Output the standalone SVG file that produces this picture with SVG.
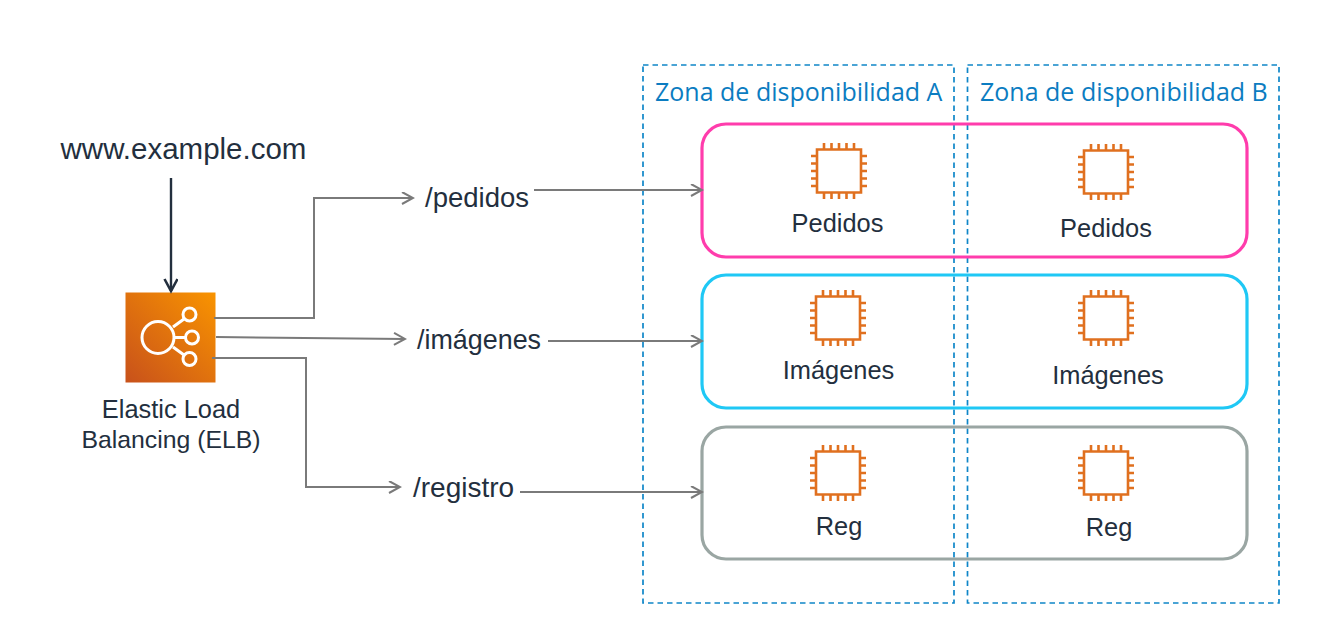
<svg xmlns="http://www.w3.org/2000/svg" width="1337" height="624" viewBox="0 0 1337 624">
<style>
text{font-family:"Liberation Sans",Arial,sans-serif;fill:#232f3e;font-size:25.4px}
.r{font-size:27.500px}
.z{fill:#0b7cc1;font-size:25px;font-family:"Open Sans","Noto Sans",sans-serif}
.zone{fill:none;stroke:#0f86c8;stroke-width:1.7;stroke-dasharray:5.5 4}
.grp{fill:none;stroke-width:3.2}
.c{fill:none;stroke:#7a7a7a;stroke-width:2}
.chip{fill:none;stroke:#e0701f;stroke-width:2.600}
</style>
<defs>
<linearGradient id="elb" x1="0" y1="1" x2="1" y2="0"><stop offset="0" stop-color="#c8511b"/><stop offset="1" stop-color="#f99400"/></linearGradient>
<marker id="a" markerWidth="14" markerHeight="14" refX="12" refY="6.500" orient="auto" markerUnits="userSpaceOnUse"><path d="M1 0.500L12 6.500L1 12.500" fill="none" stroke="#7a7a7a" stroke-width="2"/></marker>
<marker id="d" markerWidth="16" markerHeight="16" refX="13" refY="7" orient="auto" markerUnits="userSpaceOnUse"><path d="M1 0.500L13 7L1 13.500" fill="none" stroke="#232f3e" stroke-width="2.600"/></marker>
<symbol id="chip" overflow="visible"><path class="chip" d="M-22-21.500H22V21.500H-22ZM-15-21.500V-28M-7.500-21.500V-28M0-21.500V-28M7.500-21.500V-28M15-21.500V-28M-15 21.500V28M-7.500 21.500V28M0 21.500V28M7.500 21.500V28M15 21.500V28M-22-15H-28M-22-7.500H-28M-22 0H-28M-22 7.500H-28M-22 15H-28M22-15H28M22-7.500H28M22 0H28M22 7.500H28M22 15H28"/></symbol>
</defs>
<rect width="1337" height="624" fill="#fff"/>
<g id="zone-a"><rect class="zone" x="643" y="65" width="311" height="538"/><text class="z" x="655" y="100.500">Zona de disponibilidad A</text></g>
<g id="zone-b"><rect class="zone" x="967.500" y="65" width="311.500" height="538"/><text class="z" x="980" y="100.500">Zona de disponibilidad B</text></g>
<g id="pedidos"><rect class="grp" x="702" y="124" width="545" height="133" rx="24" stroke="#ff3cac"/>
<use href="#chip" x="839" y="171"/><use href="#chip" x="1106" y="172"/>
<text x="837.500" y="232" text-anchor="middle">Pedidos</text><text x="1106" y="237" text-anchor="middle">Pedidos</text></g>
<g id="imagenes"><rect class="grp" x="702" y="275" width="545" height="133" rx="24" stroke="#1fc8f5"/>
<use href="#chip" x="838" y="318"/><use href="#chip" x="1106" y="318"/>
<text x="838.500" y="378.500" text-anchor="middle">Imágenes</text><text x="1108" y="383.500" text-anchor="middle">Imágenes</text></g>
<g id="reg"><rect class="grp" x="702" y="427" width="545" height="132" rx="24" stroke="#9aa6a3"/>
<use href="#chip" x="838" y="473"/><use href="#chip" x="1106" y="473"/>
<text x="839" y="534.500" text-anchor="middle">Reg</text><text x="1109" y="535.500" text-anchor="middle">Reg</text></g>
<g id="elb-node"><rect x="125.500" y="292.500" width="90" height="90" fill="url(#elb)"/>
<g fill="none" stroke="#fff" stroke-width="3"><circle cx="158" cy="337.500" r="16"/><circle cx="189.500" cy="314.500" r="6.500"/><circle cx="192" cy="337.500" r="6.500"/><circle cx="189.500" cy="359" r="6.500"/><path d="M173 327L184 319M174 337.500H185.500M173 347L184 355"/></g>
<text x="171" y="417.500" text-anchor="middle">Elastic Load</text><text x="171" y="447.500" text-anchor="middle" style="font-size:24.800px">Balancing (ELB)</text></g>
<text id="url" x="183.500" y="158.500" text-anchor="middle" style="font-size:29.500px">www.example.com</text>
<text id="r1" class="r" x="425" y="206.500">/pedidos</text>
<text id="r2" class="r" x="417" y="348.500" style="font-size:26.900px">/imágenes</text>
<text id="r3" class="r" x="413" y="496.500" style="font-size:28px">/registro</text>
<g id="connectors">
<path d="M171 178V291" fill="none" stroke="#232f3e" stroke-width="2.400" marker-end="url(#d)"/>
<path class="c" d="M214 318H314V198H413" marker-end="url(#a)"/>
<path class="c" d="M216 337L405 339" marker-end="url(#a)"/>
<path class="c" d="M212 358H306V487H400" marker-end="url(#a)"/>
<path class="c" d="M534 190H702" marker-end="url(#a)"/>
<path class="c" d="M548 341H702" marker-end="url(#a)"/>
<path class="c" d="M520 492H702" marker-end="url(#a)"/>
</g>
</svg>
